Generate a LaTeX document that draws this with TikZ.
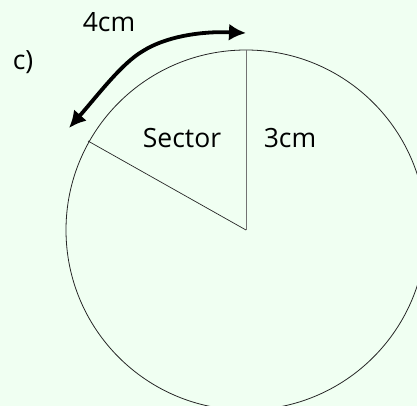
\documentclass[tikz,border=0pt]{standalone}
\usepackage{fontspec}
\setmainfont{Open Sans}
\usetikzlibrary{arrows.meta}
\definecolor{bg}{HTML}{F0FFF2}
\begin{document}
\begin{tikzpicture}[x=1pt,y=-1pt,
  lbl/.style={font=\fontsize{26.5}{30}\selectfont, inner sep=0pt, anchor=center},
  arcarrow/.style={line width=3.8pt, {Latex[length=17pt,width=17pt]}-{Latex[length=17pt,width=17pt]}}]
\fill[bg] (0,0) rectangle (417,406);
\useasboundingbox (0,0) rectangle (417,406);
\coordinate (O) at (246,230);
\coordinate (T) at (246,50);
\coordinate (L) at (88,141);
\begin{scope}
\clip (0,0) rectangle (417,406);
\draw[line width=0.8pt, black!85] (O) circle[radius=180];
\end{scope}
\draw[line width=0.9pt, black!55] (O) -- (T);
\draw[line width=0.7pt, black!85] (O) -- (L);
\coordinate (A) at (69,128);
\coordinate (M) at (143,51);
\coordinate (B) at (246,33);
\draw[arcarrow] (A) .. controls (98,95) and (122,63) .. (M) .. controls (165,37) and (200,31) .. (B);
\node[lbl] (four) at (109,22) {4cm};
\node[lbl] (c) at (23,62) {c)};
\node[lbl] (sector) at (182,138) {Sector};
\node[lbl] (three) at (290,138) {3cm};
\end{tikzpicture}
\end{document}
